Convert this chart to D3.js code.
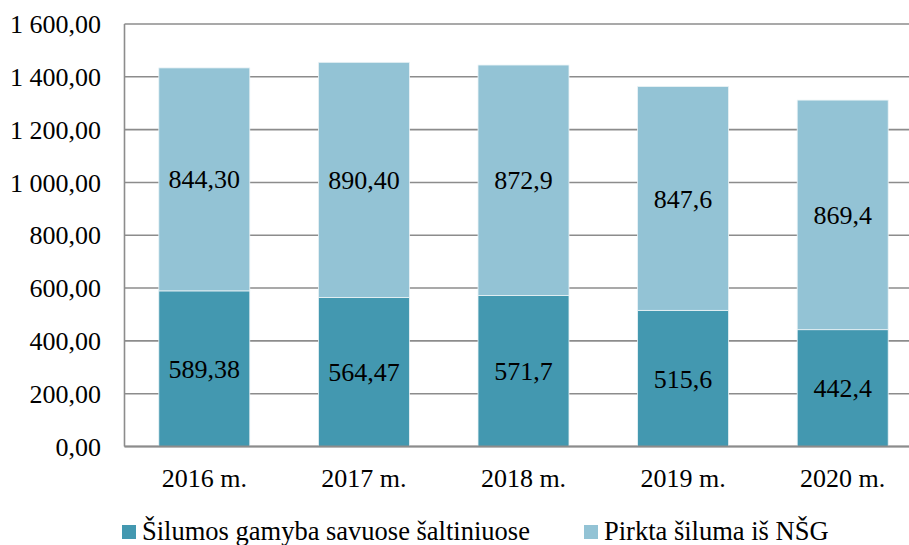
<!DOCTYPE html>
<html>
<head>
<meta charset="utf-8">
<script src="https://cdn.jsdelivr.net/npm/d3@7"></script>
<style>
html,body{margin:0;padding:0;background:#fff;}
</style>
</head>
<body>
<svg id="chart" width="909" height="545"></svg>
<script>
const categories = ["2016 m.", "2017 m.", "2018 m.", "2019 m.", "2020 m."];
const ownProduction = [589.38, 564.47, 571.7, 515.6, 442.4];
const ownLabels = ["589,38", "564,47", "571,7", "515,6", "442,4"];
const purchased = [844.30, 890.40, 872.9, 847.6, 869.4];
const purchasedLabels = ["844,30", "890,40", "872,9", "847,6", "869,4"];
const seriesNames = ["Šilumos gamyba savuose šaltiniuose", "Pirkta šiluma iš NŠG"];
const yTicks = [0, 200, 400, 600, 800, 1000, 1200, 1400, 1600];

(function () {
const colors = ["#4398B0", "#93C3D5"];
const FONT = "'Liberation Serif', 'Times New Roman', Tinos, 'DejaVu Serif', serif";
const FS = 26;
const svg = d3.select("#chart").attr("font-family", FONT);
const pLeft = 124.5, pRight = 922.5, pTop = 24, pBottom = 446.5;

const x = d3.scaleBand().domain(categories).range([pLeft, pRight]).paddingInner(0.43).paddingOuter(0.215);
const y = d3.scaleLinear().domain([0, 1600]).range([pBottom, pTop]);

const loc = d3.formatLocale({decimal: ",", thousands: "\u00a0", grouping: [3], currency: ["", ""]});
const fmt = loc.format(",.2f");

svg.append("g").selectAll("line").data(yTicks).join("line")
  .attr("x1", pLeft).attr("x2", 909)
  .attr("y1", d => y(d)).attr("y2", d => y(d))
  .attr("stroke", "#8c8c8c").attr("stroke-width", 1.6);

svg.append("line").attr("x1", pLeft).attr("x2", pLeft).attr("y1", pTop).attr("y2", pBottom)
  .attr("stroke", "#8c8c8c").attr("stroke-width", 1.6);

svg.append("g").selectAll("text").data(yTicks).join("text")
  .attr("x", 101).attr("y", d => y(d)).attr("dy", "0.35em")
  .attr("text-anchor", "end").attr("font-size", FS).attr("fill", "#000")
  .attr("font-family", FONT)
  .text(d => fmt(d));

const rows = categories.map((c, i) => ({cat: c, own: ownProduction[i], bought: purchased[i], ol: ownLabels[i], bl: purchasedLabels[i]}));
const g = svg.append("g").attr("font-family", FONT);
rows.forEach(r => {
  const x0 = x(r.cat), w = x.bandwidth();
  g.append("rect").attr("x", x0).attr("width", w)
    .attr("y", y(r.own)).attr("height", y(0) - y(r.own))
    .attr("fill", colors[0]).attr("stroke", "#eaf3f6").attr("stroke-width", 0.8);
  g.append("rect").attr("x", x0).attr("width", w)
    .attr("y", y(r.own + r.bought)).attr("height", y(r.own) - y(r.own + r.bought))
    .attr("fill", colors[1]).attr("stroke", "#eaf3f6").attr("stroke-width", 0.8);
  g.append("text").attr("x", x0 + w / 2).attr("y", (y(0) + y(r.own)) / 2).attr("dy", "0.35em")
    .attr("text-anchor", "middle").attr("font-size", FS).attr("font-family", FONT).text(r.ol);
  g.append("text").attr("x", x0 + w / 2).attr("y", (y(r.own) + y(r.own + r.bought)) / 2).attr("dy", "0.35em")
    .attr("text-anchor", "middle").attr("font-size", FS).attr("font-family", FONT).text(r.bl);
});

svg.append("line").attr("x1", pLeft).attr("x2", 909).attr("y1", y(0)).attr("y2", y(0))
  .attr("stroke", "#8c8c8c").attr("stroke-width", 1.8);

svg.append("g").selectAll("text").data(categories).join("text")
  .attr("x", d => x(d) + x.bandwidth() / 2).attr("y", 487)
  .attr("text-anchor", "middle").attr("font-size", FS).attr("font-family", FONT).text(d => d);

const legendX = [122, 584];
seriesNames.forEach((n, i) => {
  svg.append("rect").attr("x", legendX[i]).attr("y", 525).attr("width", 14).attr("height", 14).attr("fill", colors[i]);
  svg.append("text").attr("x", legendX[i] + 20).attr("y", 540).attr("font-size", 26.5).attr("font-family", FONT).text(n);
});
})();
</script>
</body>
</html>
